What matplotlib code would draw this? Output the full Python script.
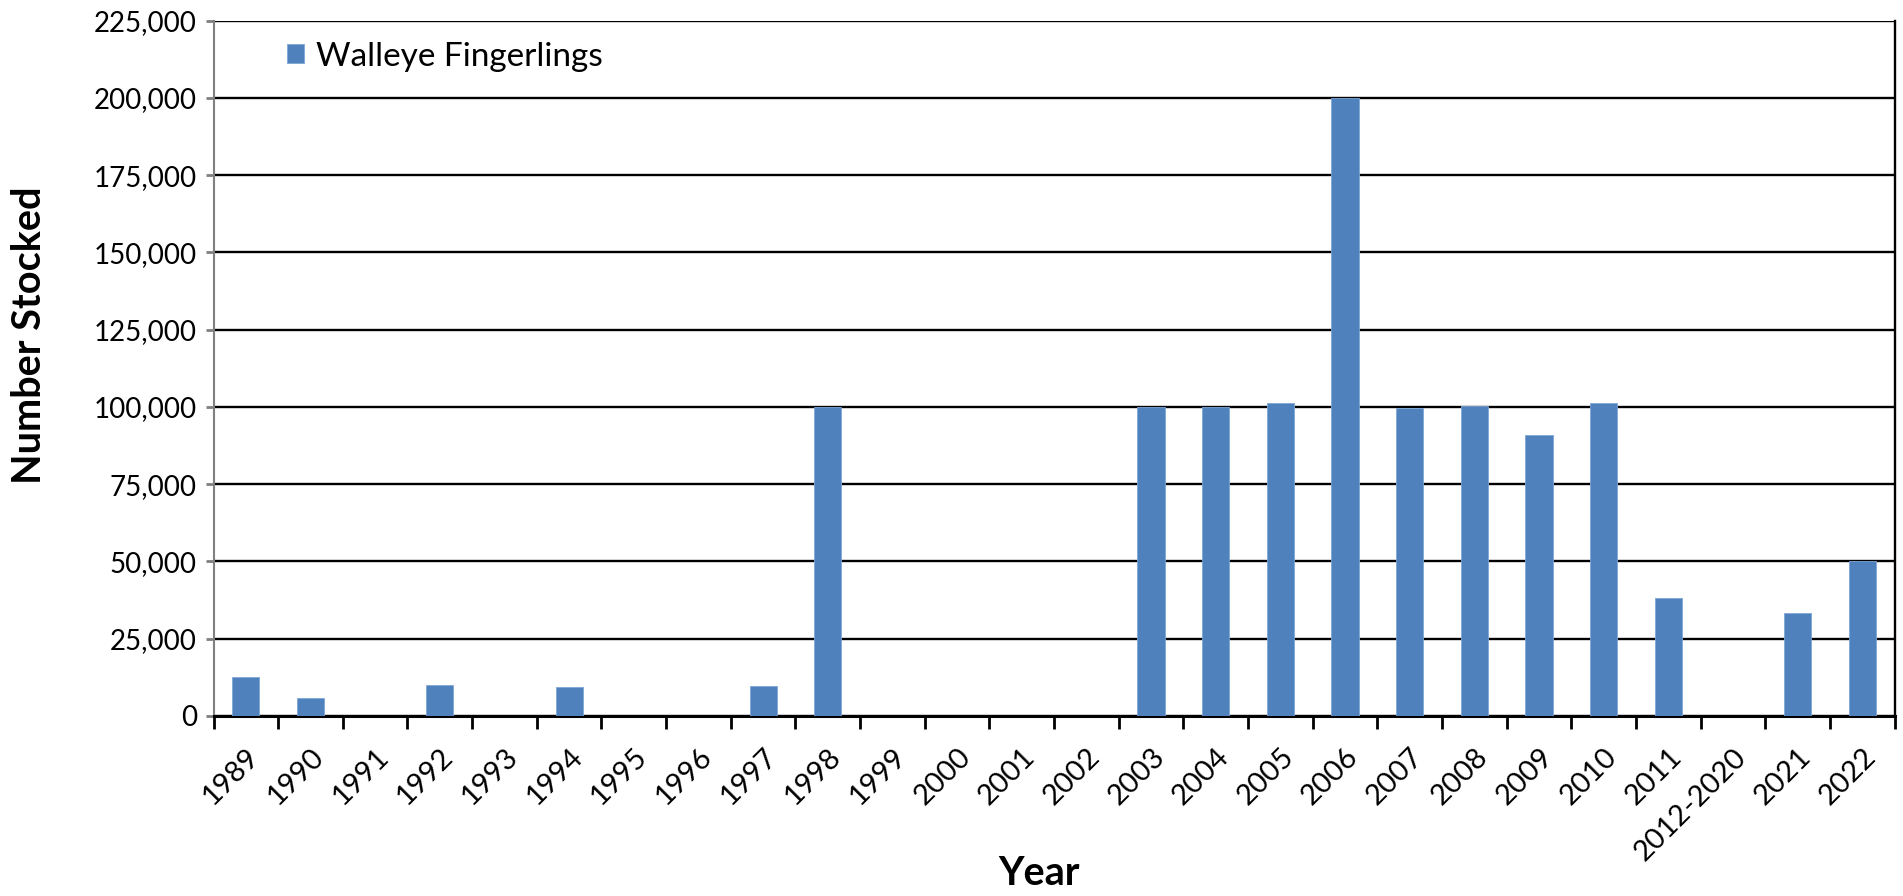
import matplotlib
matplotlib.use("Agg")
import matplotlib.pyplot as plt
import numpy as np
from matplotlib.ticker import FuncFormatter, FixedLocator

categories = ["1989", "1990", "1991", "1992", "1993", "1994", "1995", "1996", "1997",
              "1998", "1999", "2000", "2001", "2002", "2003", "2004", "2005", "2006",
              "2007", "2008", "2009", "2010", "2011", "2012-2020", "2021", "2022"]
walleye = [12600, 5900, 0, 10100, 0, 9300, 0, 0, 9800,
           100000, 0, 0, 0, 0, 100000, 100000, 101400, 200000,
           99800, 100400, 90900, 101400, 38200, 0, 33300, 50000]
yticks = [0, 25000, 50000, 75000, 100000, 125000, 150000, 175000, 200000, 225000]

plt.rcParams['font.family'] = ['Lato', 'DejaVu Sans']

fig = plt.figure(figsize=(19.03, 8.96), dpi=100)
ax = fig.add_axes([0.1122, 0.2009, 0.9956 - 0.1122, 0.977 - 0.2009])

x = np.arange(len(categories))
ax.bar(x, walleye, width=0.42, color="#4F81BD", edgecolor="#7FA6D6", linewidth=0.6,
       label="Walleye Fingerlings", zorder=3)

ax.set_xlim(-0.5, len(categories) - 0.5)
ax.set_ylim(0, 225000)
ax.set_yticks(yticks)
ax.yaxis.set_major_formatter(FuncFormatter(lambda v, p: f"{int(v):,}"))
ax.grid(axis='y', color='black', linewidth=1.7, zorder=1)
ax.set_axisbelow(True)

# x ticks: boundaries as major ticks, labels at centers
ax.xaxis.set_major_locator(FixedLocator(np.arange(-0.5, len(categories), 1.0)))
ax.xaxis.set_major_formatter(FuncFormatter(lambda v, p: ""))
ax.xaxis.set_minor_locator(FixedLocator(x))
ax.set_xticklabels(categories, minor=True)
ax.tick_params(axis='x', which='major', direction='out', length=9, width=2, color='black')
ax.tick_params(axis='x', which='minor', length=0, pad=20, labelsize=21)
for lbl in ax.get_xticklabels(minor=True):
    lbl.set_rotation(45)
    lbl.set_ha('right')
    lbl.set_va('top')
    lbl.set_rotation_mode('anchor')

ax.tick_params(axis='y', direction='out', length=6, width=2, color='#808080', labelsize=20, pad=6)

ax.spines['top'].set_visible(False)
ax.spines['left'].set_color('#808080')
ax.spines['left'].set_linewidth(1.5)
ax.spines['bottom'].set_color('black')
ax.spines['bottom'].set_linewidth(2.2)
ax.spines['right'].set_color('black')
ax.spines['right'].set_linewidth(1.7)

ax.set_ylabel("Number Stocked", fontsize=28.5, fontweight='bold', va='center')
ax.yaxis.set_label_coords(-0.1092, 0.547)
ax.set_xlabel("Year", fontsize=28.5, fontweight='bold', va='center')
ax.xaxis.set_label_coords(0.491, -0.227)

leg = ax.legend(loc='center left', bbox_to_anchor=(0.044, 0.948), frameon=False,
                fontsize=24, handlelength=0.5, handleheight=0.5, handletextpad=0.36,
                borderpad=0, borderaxespad=0)

fig.savefig("out.png", dpi=100)
